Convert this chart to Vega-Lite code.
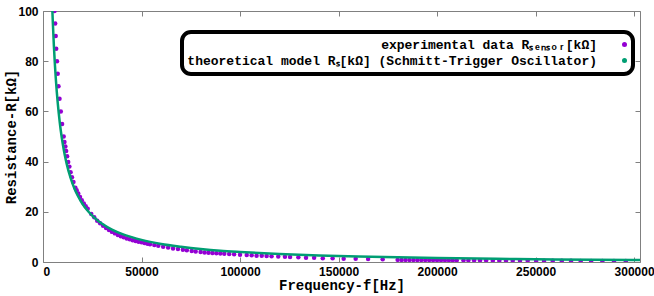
{
  "$schema": "https://vega.github.io/schema/vega-lite/v6.json",
  "width": 597,
  "height": 251,
  "autosize": "none",
  "padding": {"left": 43, "top": 11, "right": 14, "bottom": 34},
  "background": "white",
  "config": {
    "view": {"stroke": "#808080", "strokeWidth": 1},
    "legend": {"strokeWidth": 4},
    "axis": {
      "domain": false,
      "grid": false,
      "labelFont": "Liberation Sans",
      "labelFontWeight": "bold",
      "labelFontSize": 12,
      "labelColor": "black",
      "tickColor": "#808080",
      "tickSize": -5,
      "titleFont": "Liberation Mono",
      "titleFontWeight": "bold",
      "titleFontSize": 14,
      "titleColor": "black"
    }
  },
  "datasets": {
    "exp": [
      {"f": 5840, "R": 100}, {"f": 6190, "R": 95}, {"f": 6450, "R": 90}, {"f": 6700, "R": 85},
      {"f": 7110, "R": 80}, {"f": 7460, "R": 75}, {"f": 7870, "R": 70}, {"f": 8380, "R": 65},
      {"f": 9040, "R": 60}, {"f": 9700, "R": 55}, {"f": 10510, "R": 50}, {"f": 10900, "R": 47.8},
      {"f": 11350, "R": 46}, {"f": 11750, "R": 44.2}, {"f": 12250, "R": 42.1}, {"f": 12800, "R": 39.8},
      {"f": 13400, "R": 38}, {"f": 14000, "R": 35.8}, {"f": 14700, "R": 33.8}, {"f": 15450, "R": 31.9},
      {"f": 16450, "R": 29.6}, {"f": 17100, "R": 28.6}, {"f": 17900, "R": 27.3}, {"f": 18800, "R": 25.9},
      {"f": 19700, "R": 24.6}, {"f": 20700, "R": 23.3}, {"f": 21700, "R": 22.2}, {"f": 22700, "R": 21.2},
      {"f": 24500, "R": 19.1}, {"f": 26000, "R": 17.8}, {"f": 27500, "R": 16.4}, {"f": 29000, "R": 15.4},
      {"f": 30500, "R": 14.4}, {"f": 32000, "R": 13.5}, {"f": 33500, "R": 12.7}, {"f": 35000, "R": 12.0},
      {"f": 36500, "R": 11.4}, {"f": 38000, "R": 10.8}, {"f": 39500, "R": 10.3}, {"f": 41000, "R": 9.85},
      {"f": 42500, "R": 9.4}, {"f": 44000, "R": 9.07}, {"f": 45500, "R": 8.7}, {"f": 47000, "R": 8.4},
      {"f": 48500, "R": 8.1}, {"f": 50000, "R": 7.84}, {"f": 51500, "R": 7.6}, {"f": 53000, "R": 7.3},
      {"f": 54300, "R": 7.1}, {"f": 56500, "R": 6.8}, {"f": 58500, "R": 6.5}, {"f": 61000, "R": 6.1},
      {"f": 63500, "R": 5.75}, {"f": 66000, "R": 5.4}, {"f": 68500, "R": 5.15}, {"f": 71000, "R": 4.9},
      {"f": 73000, "R": 4.65}, {"f": 75500, "R": 4.35}, {"f": 77500, "R": 4.15}, {"f": 80000, "R": 3.95},
      {"f": 82000, "R": 3.8}, {"f": 84000, "R": 3.7}, {"f": 86000, "R": 3.6}, {"f": 88000, "R": 3.5},
      {"f": 90000, "R": 3.4}, {"f": 92000, "R": 3.3}, {"f": 94500, "R": 3.2}, {"f": 97000, "R": 3.05},
      {"f": 100000, "R": 2.92}, {"f": 103400, "R": 2.8}, {"f": 105900, "R": 2.65}, {"f": 108400, "R": 2.5},
      {"f": 111000, "R": 2.45}, {"f": 113500, "R": 2.4}, {"f": 116000, "R": 2.26}, {"f": 119400, "R": 2.2},
      {"f": 122800, "R": 2.1}, {"f": 125400, "R": 2.0}, {"f": 129600, "R": 1.87}, {"f": 133500, "R": 1.72},
      {"f": 137600, "R": 1.68}, {"f": 142000, "R": 1.5}, {"f": 147000, "R": 1.45}, {"f": 152600, "R": 1.32},
      {"f": 158700, "R": 1.28}, {"f": 165000, "R": 1.18}, {"f": 172400, "R": 1.07}, {"f": 180000, "R": 0.85},
      {"f": 182000, "R": 0.84}, {"f": 184000, "R": 0.83}, {"f": 186000, "R": 0.82}, {"f": 188000, "R": 0.81},
      {"f": 190000, "R": 0.8}, {"f": 192000, "R": 0.8}, {"f": 194000, "R": 0.79}, {"f": 196000, "R": 0.78},
      {"f": 198000, "R": 0.77}, {"f": 200000, "R": 0.76}, {"f": 202000, "R": 0.75}, {"f": 204000, "R": 0.74},
      {"f": 206000, "R": 0.73}, {"f": 208000, "R": 0.72}, {"f": 210000, "R": 0.71}, {"f": 213400, "R": 0.7},
      {"f": 215900, "R": 0.69}, {"f": 218800, "R": 0.68}, {"f": 221800, "R": 0.67}, {"f": 224900, "R": 0.66},
      {"f": 228300, "R": 0.64}, {"f": 231600, "R": 0.63}, {"f": 235000, "R": 0.62}, {"f": 238400, "R": 0.6},
      {"f": 242100, "R": 0.58}, {"f": 246000, "R": 0.56}, {"f": 250300, "R": 0.54}, {"f": 254300, "R": 0.52},
      {"f": 258700, "R": 0.5}, {"f": 263300, "R": 0.48}, {"f": 268000, "R": 0.46}, {"f": 272900, "R": 0.44},
      {"f": 278200, "R": 0.42}, {"f": 283900, "R": 0.4}, {"f": 289800, "R": 0.38}, {"f": 295800, "R": 0.36}
    ],
    "theo": [
      {"f": 4720, "R": 100.9}, {"f": 5000, "R": 95.2}, {"f": 5500, "R": 86.5}, {"f": 6000, "R": 79.2},
      {"f": 7000, "R": 67.8}, {"f": 8000, "R": 59.2}, {"f": 9000, "R": 52.5}, {"f": 10000, "R": 47.2},
      {"f": 11000, "R": 42.8}, {"f": 12000, "R": 39.2}, {"f": 14000, "R": 33.5}, {"f": 16000, "R": 29.2},
      {"f": 18000, "R": 25.9}, {"f": 20000, "R": 23.2}, {"f": 23000, "R": 20.1}, {"f": 26000, "R": 17.7},
      {"f": 30000, "R": 15.2}, {"f": 35000, "R": 12.9}, {"f": 40000, "R": 11.2}, {"f": 45000, "R": 9.9},
      {"f": 50000, "R": 8.8}, {"f": 60000, "R": 7.2}, {"f": 70000, "R": 6.1}, {"f": 80000, "R": 5.2},
      {"f": 90000, "R": 4.5}, {"f": 100000, "R": 4.0}, {"f": 120000, "R": 3.2}, {"f": 140000, "R": 2.6},
      {"f": 160000, "R": 2.2}, {"f": 180000, "R": 1.9}, {"f": 200000, "R": 1.6}, {"f": 230000, "R": 1.3},
      {"f": 260000, "R": 1.0}, {"f": 303000, "R": 0.8}
    ]
  },
  "layer": [
    {
      "data": {"name": "exp"},
      "transform": [{"calculate": "'experimental data Rₛₑₙₛₒᵣ[kΩ]'", "as": "series"}],
      "mark": {"type": "point", "filled": true, "size": 20, "opacity": 1, "clip": true},
      "encoding": {
        "x": {"field": "f", "type": "quantitative",
              "scale": {"domain": [0, 303000], "nice": false, "zero": false},
              "axis": {"orient": "bottom", "values": [0, 50000, 100000, 150000, 200000, 250000, 300000],
                       "format": "d", "labelPadding": 9, "title": "Frequency-f[Hz]", "titlePadding": 1, "labelFlush": true}},
        "y": {"field": "R", "type": "quantitative",
              "scale": {"domain": [0, 100], "nice": false},
              "axis": {"orient": "left", "values": [0, 20, 40, 60, 80, 100], "labelPadding": 10,
                       "title": "Resistance-R[kΩ]", "titleX": -25}},
        "color": {"field": "series", "type": "nominal",
                  "scale": {"domain": ["experimental data Rₛₑₙₛₒᵣ[kΩ]", "theoretical model Rₛ[kΩ] (Schmitt-Trigger Oscillator)"],
                            "range": ["#9400d3", "#009e73"]},
                  "legend": {
                    "title": null, "orient": "none", "legendX": 139, "legendY": 21,
                    "direction": "vertical",
                    "labelFont": "Liberation Mono", "labelFontWeight": "bold", "labelFontSize": 13,
                    "labelColor": "black", "labelLimit": 800, "labelAlign": "right",
                    "labelOffset": -34, "symbolOffset": 430, "symbolSize": 25,
                    "strokeColor": "black", "fillColor": "white",
                    "cornerRadius": 9, "padding": 6, "rowPadding": 2,
                    "encode": {
                      "symbols": {"update": {
                        "shape": {"signal": "(indexof(datum.value + '', 'theo') === 0 || datum.index === 1) ? 'stroke' : 'circle'"},
                        "size": {"signal": "(indexof(datum.value + '', 'theo') === 0 || datum.index === 1) ? 900 : 25"},
                        "stroke": {"signal": "(indexof(datum.value + '', 'theo') === 0 || datum.index === 1) ? '#009e73' : 'transparent'"},
                        "strokeWidth": {"signal": "(indexof(datum.value + '', 'theo') === 0 || datum.index === 1) ? 2.5 : 0"}
                      }}
                    }
                  }}
      }
    },
    {
      "data": {"name": "theo"},
      "mark": {"type": "line", "color": "#009e73", "strokeWidth": 2.5, "clip": true, "interpolate": "monotone"},
      "encoding": {
        "x": {"field": "f", "type": "quantitative",
              "scale": {"domain": [0, 303000], "nice": false, "zero": false},
              "axis": {"orient": "top", "values": [0, 50000, 100000, 150000, 200000, 250000, 300000],
                       "labels": false, "title": null}},
        "y": {"field": "R", "type": "quantitative",
              "scale": {"domain": [0, 100], "nice": false},
              "axis": {"orient": "right", "values": [0, 20, 40, 60, 80, 100], "labels": false, "title": null}}
      }
    }
  ],
  "resolve": {"axis": {"x": "independent", "y": "independent"}}
}
